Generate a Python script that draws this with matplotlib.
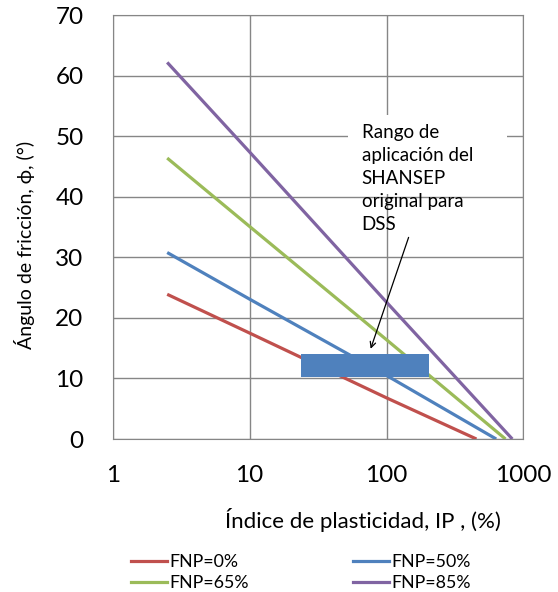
import matplotlib.pyplot as plt
from matplotlib.patches import Rectangle
from matplotlib.lines import Line2D

plt.rcParams['font.family'] = ['Lato', 'DejaVu Sans']

# data
ip = [2.5, 10, 100]
fnp0_ip = ip + [454]
fnp0 = [23.9, 17.5, 6.8, 0]
fnp50_ip = ip + [633]
fnp50 = [30.8, 23.1, 10.5, 0]
fnp65_ip = ip + [740]
fnp65 = [46.4, 35.1, 16.4, 0]
fnp85_ip = ip + [830]
fnp85 = [62.2, 47.4, 22.6, 0]

labels = ["FNP=0%", "FNP=50%", "FNP=65%", "FNP=85%"]
colors = ["#C0504D", "#4F81BD", "#9BBB59", "#8064A2"]

rect_ip = [23.6, 203]
rect_phi = [10.2, 14.0]

note = "Rango de\naplicación del\nSHANSEP\noriginal para\nDSS"

fig = plt.figure(figsize=(5.58, 5.92), dpi=100)
ax = fig.add_axes([0.202, 0.2584, 0.736, 0.716])

series = [(fnp0_ip, fnp0), (fnp50_ip, fnp50), (fnp65_ip, fnp65), (fnp85_ip, fnp85)]
for (x, y), c, lab in zip(series, colors, labels):
    ax.plot(x, y, color=c, lw=2.3, label=lab, solid_capstyle='butt', zorder=3)

ax.add_patch(Rectangle((rect_ip[0], rect_phi[0]), rect_ip[1] - rect_ip[0],
                       rect_phi[1] - rect_phi[0], facecolor="#4F81BD",
                       edgecolor="none", zorder=4))

ax.set_xscale('log')
ax.set_xlim(1, 1000)
ax.set_ylim(0, 70)
ax.set_xticks([1, 10, 100, 1000])
ax.set_xticklabels(["1", "10", "100", "1000"])
ax.set_yticks(range(0, 80, 10))
ax.minorticks_off()
ax.tick_params(length=0, labelsize=17.5)
ax.tick_params(axis='x', pad=19)
ax.tick_params(axis='y', pad=21)
ax.grid(True, color="#868686", lw=1)
ax.set_axisbelow(True)
for s in ax.spines.values():
    s.set_color("#868686")

ax.set_xlabel("Índice de plasticidad, IP , (%)", fontsize=16)
ax.xaxis.set_label_coords(0.61, -0.162)
ax.set_ylabel("Ángulo de fricción, ϕ, (°)", fontsize=14)
ax.yaxis.set_label_coords(-0.19, 0.458)

# white text box of the callout (hides the grid behind the first lines)
ax.add_patch(Rectangle((52, 40.4), 764 - 52, 53.5 - 40.4, facecolor='white',
                       edgecolor='none', zorder=1))
ax.text(65.8, 52.0, note, fontsize=13.5, va='top', ha='left', linespacing=1.42,
        zorder=5)
ax.annotate("", xy=(76.6, 14.9), xytext=(145, 33.3),
            arrowprops=dict(arrowstyle='->', color='black', lw=0.9,
                            shrinkA=0, shrinkB=0), zorder=6)

handles = [Line2D([0], [0], color=c, lw=2.3) for c in colors]
order = [0, 2, 1, 3]
fig.legend([handles[i] for i in order], [labels[i] for i in order],
           loc='upper left', bbox_to_anchor=(0.2348, 0.0642),
           ncol=2, frameon=False, fontsize=12.8, handlelength=2.0,
           handletextpad=0.17, columnspacing=5.85, labelspacing=0.27,
           borderpad=0, borderaxespad=0)

fig.savefig("out.png", dpi=100)
